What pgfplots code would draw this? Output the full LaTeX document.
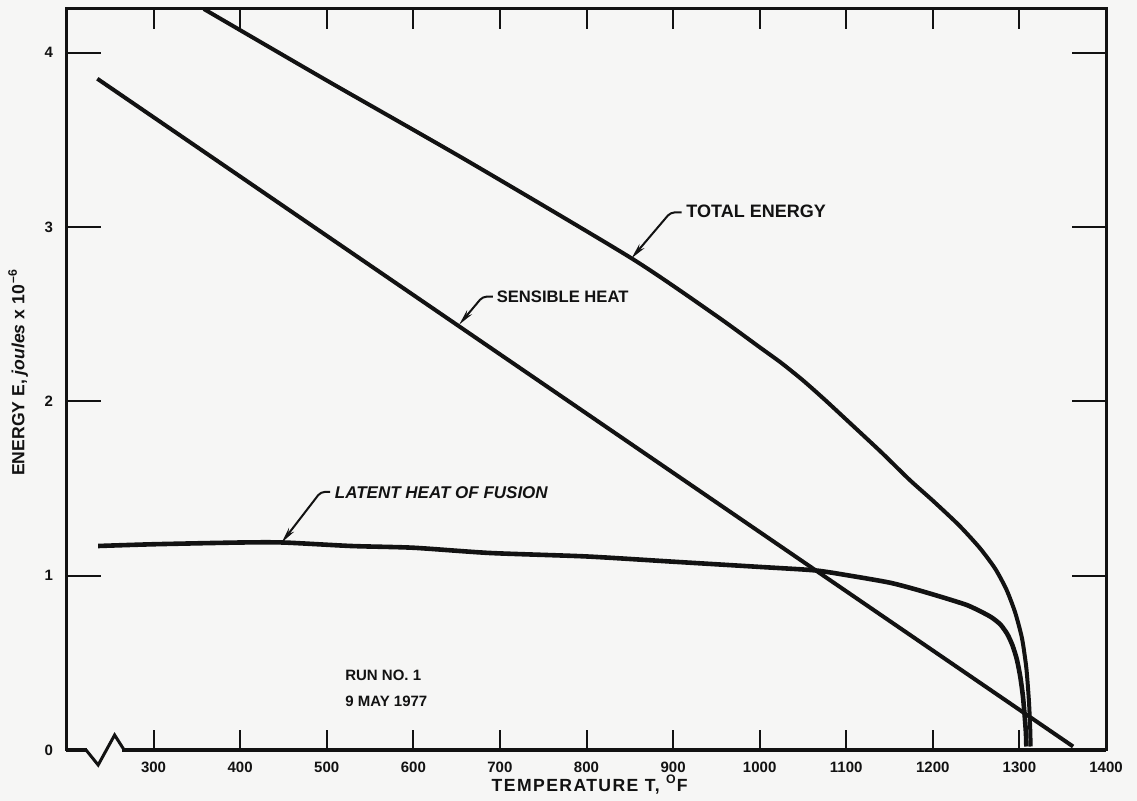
\documentclass[border=0pt]{standalone}
\usepackage{fontspec}
\setmainfont{Liberation Sans}
\usepackage{pgfplots}
\pgfplotsset{compat=1.18}
\usetikzlibrary{arrows.meta}
\definecolor{paper}{RGB}{246,246,245}
\definecolor{ink}{RGB}{18,18,18}

\begin{document}
\begin{tikzpicture}
\fill[paper] (-33.5pt,-25.5pt) rectangle (535pt,375pt);
\path[use as bounding box] (-33.5pt,-25.5pt) rectangle (535pt,375pt);
\begin{axis}[
  scale only axis, width=519.5pt, height=370.5pt,
  xmin=200, xmax=1400, ymin=0, ymax=4.25,
  xtick={300,400,...,1400}, ytick={1,2,3,4},
  extra y ticks={0}, extra y tick style={major tick length=0pt},
  axis line style={ink, line width=1.5pt},
  tick style={ink, line width=1pt},
  xtick style={/pgfplots/major tick length=10pt},
  ytick style={/pgfplots/major tick length=17pt},
  /pgf/number format/assume math mode=true,
  /pgf/number format/1000 sep={},
  ticklabel style={font=\bfseries\fontsize{7.5}{9}\selectfont, text=ink},
  xticklabel style={yshift=-2.5pt},
  yticklabel style={xshift=-3.5pt},
  xlabel={TEMPERATURE T, \textsuperscript{O}F},
  ylabel={ENERGY E, \textit{joules} x 10\textsuperscript{\,--6}},
  xlabel style={at={(axis description cs:0.503,-0.047)}, anchor=center,
    font=\bfseries\fontsize{8.8}{10}\selectfont\addfontfeature{LetterSpace=8}, text=ink},
  ylabel style={at={(axis description cs:-0.047,0.51)}, anchor=center, font=\bfseries\fontsize{8.8}{10}\selectfont, text=ink},
  clip=false,
]
% total energy
\addplot[ink, line width=2pt, smooth, tension=0.4] coordinates {
(358,4.25) (500,3.84) (662,3.38) (852,2.82) (950,2.49) (1000,2.31)
(1025,2.22) (1050,2.12) (1075,2.01) (1100,1.895) (1140,1.71) (1173,1.55)
(1200,1.43) (1230,1.29) (1254,1.16) (1272,1.04) (1285,0.92) (1295,0.79)
(1303,0.64) (1308,0.47) (1311,0.28) (1312.5,0.12) (1313,0.02)
};
% sensible heat
\addplot[ink, line width=2pt] coordinates {
(235,3.85) (1362,0.02)
};
% latent heat of fusion
\addplot[ink, line width=2.3pt, smooth, tension=0.4] coordinates {
(236,1.17) (300,1.18) (400,1.19) (450,1.19) (528,1.17) (600,1.16)
(688,1.13) (800,1.11) (900,1.08) (1000,1.05) (1064,1.03) (1104,1.00)
(1150,0.96) (1181,0.92) (1215,0.87) (1240,0.83) (1257,0.79) (1268,0.76)
(1278,0.72) (1286,0.665) (1292,0.60) (1297,0.52) (1301,0.42) (1304,0.31)
(1306,0.20) (1307.5,0.10) (1308,0.02)
};

% axis break
\draw[paper, line width=3pt] (axis cs:223,0) -- (axis cs:264,0);
\draw[ink, line width=1.6pt] (axis cs:199,0) -- (axis cs:223,0);
\draw[ink, line width=1.6pt] (axis cs:264,0) -- (axis cs:1400,0);
\draw[ink, line width=1.5pt, line join=miter] (axis cs:222,0) -- (axis cs:236,-0.086)
  -- (axis cs:255,0.086) -- (axis cs:266,0);

% labels with leaders
\tikzset{lead/.style={ink, line width=1pt, rounded corners=2pt, -{Stealth[length=8pt,width=3.2pt]}}}
\draw[lead] (axis cs:910,3.083) -- (axis cs:897,3.083) -- (axis cs:852,2.82);
\node[anchor=west, inner sep=0pt, text=ink, font=\bfseries\fontsize{9}{10}\selectfont]
  at (axis cs:915,3.09) {TOTAL ENERGY};
\draw[lead] (axis cs:692,2.60) -- (axis cs:680,2.60) -- (axis cs:653,2.44);
\node[anchor=west, inner sep=0pt, text=ink, font=\bfseries\fontsize{8.3}{10}\selectfont]
  at (axis cs:696,2.60) {SENSIBLE HEAT};
\draw[lead] (axis cs:504,1.48) -- (axis cs:493,1.48) -- (axis cs:448,1.19);
\node[anchor=west, inner sep=0pt, text=ink, font=\bfseries\itshape\fontsize{8.5}{10}\selectfont]
  at (axis cs:509,1.475) {LATENT HEAT OF FUSION};
\node[anchor=north west, inner sep=0pt, align=left, text=ink, font=\bfseries\fontsize{7.5}{13}\selectfont]
  at (axis cs:521,0.46) {RUN NO. 1\\9 MAY 1977};
\end{axis}
\end{tikzpicture}
\end{document}
